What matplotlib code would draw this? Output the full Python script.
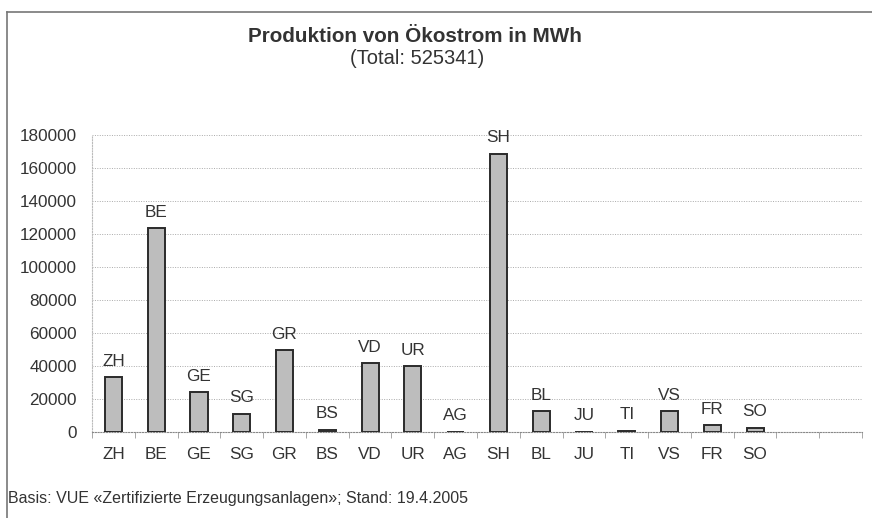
import numpy as np
import matplotlib.pyplot as plt
from matplotlib.lines import Line2D

# Kantone und Produktion (MWh)
kantone = ["ZH", "BE", "GE", "SG", "GR", "BS", "VD", "UR", "AG", "SH",
           "BL", "JU", "TI", "VS", "FR", "SO", "", ""]
produktion = [33200, 123500, 24000, 11000, 49300, 1200, 41600, 39600, 0, 168600,
              12500, 0, 700, 12500, 4000, 2400, None, None]
yticks = [0, 20000, 40000, 60000, 80000, 100000, 120000, 140000, 160000, 180000]

plt.rcParams['font.family'] = ['Liberation Sans', 'DejaVu Sans']

fig = plt.figure(figsize=(8.72, 5.18), dpi=100)
ax = fig.add_axes([92/872, 1 - 431.7/518, 770/872, (431.7 - 135)/518])

x = np.arange(len(kantone))
for i, (k, v) in enumerate(zip(kantone, produktion)):
    if v is None:
        continue
    ax.bar(i, v, width=0.4, color="#bdbdbd", edgecolor="#2b2b2b", linewidth=1.4, zorder=3)
    ax.annotate(k, (i, v), xytext=(0, 6), textcoords="offset points",
                ha="center", va="bottom", fontsize=12.3, color="#333333")

ax.set_xlim(-0.5, len(kantone) - 0.5)
ax.set_ylim(0, 180000)
ax.set_xticks(x)
ax.set_xticklabels(kantone, fontsize=12.3, color="#333333")
ax.set_xticks(np.arange(-0.5, len(kantone), 1), minor=True)
ax.tick_params(axis="x", which="major", length=0, pad=11)
ax.tick_params(axis="x", which="minor", length=4, color="#999999", direction="out")
ax.set_yticks(yticks)
ax.set_yticklabels([str(t) for t in yticks], fontsize=12.3, color="#333333")
ax.tick_params(axis="y", length=0, pad=11)

ax.yaxis.grid(True, linestyle=(0, (1, 1.5)), color="#aaaaaa", linewidth=0.7)
ax.set_axisbelow(True)
for s in ["top", "right"]:
    ax.spines[s].set_visible(False)
ax.spines["left"].set_linestyle((0, (1, 1.5)))
ax.spines["left"].set_color("#bbbbbb")
ax.spines["bottom"].set_linestyle((0, (1, 1.5)))
ax.spines["bottom"].set_color("#888888")

fig.text(415/872, 1 - 36/518, "Produktion von Ökostrom in MWh", ha="center", va="center",
         fontsize=14.9, fontweight="bold", color="#333333")
fig.text(417/872, 1 - 58/518, "(Total: 525341)", ha="center", va="center",
         fontsize=14.5, color="#333333")

fig.text(8/872, 1 - 498/518, "Basis: VUE «Zertifizierte Erzeugungsanlagen»; Stand: 19.4.2005",
         ha="left", va="center", fontsize=11.5, color="#333333")

# Rahmen oben und links
fig.add_artist(Line2D([7/872, 1], [1 - 12/518, 1 - 12/518], color="#777777", linewidth=1.2))
fig.add_artist(Line2D([7/872, 7/872], [0, 1 - 12/518], color="#777777", linewidth=1.2))

fig.savefig("out.png", dpi=100)
